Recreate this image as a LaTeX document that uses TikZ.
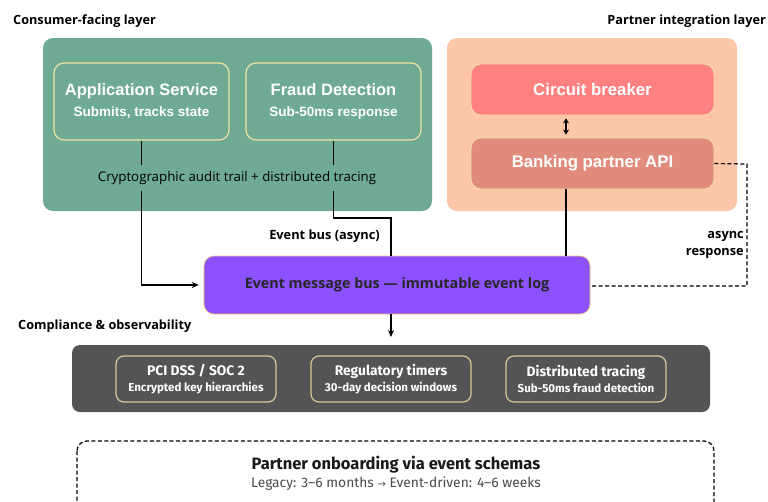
\documentclass[tikz,border=0pt]{standalone}
\usepackage{fontspec}
\setmainfont{Open Sans}
\newfontfamily\boxfont{Liberation Sans}
\newfontfamily\narrowfont{Fira Sans}
\newfontfamily\symfont{DejaVu Sans}
\usetikzlibrary{arrows.meta}
\definecolor{consgreen}{HTML}{6FAA94}
\definecolor{boxedge}{HTML}{F0E2A4}
\definecolor{peach}{HTML}{FDC6A8}
\definecolor{breaker}{HTML}{FE8080}
\definecolor{bankapi}{HTML}{E08B7B}
\definecolor{busviolet}{HTML}{8C52FF}
\definecolor{darkpanel}{HTML}{545454}
\definecolor{goldedge}{HTML}{D9C993}
\definecolor{subgray}{HTML}{4A4A4A}
\tikzset{
  panel/.style={rounded corners=10pt, inner sep=0pt},
  svcbox/.style={draw=boxedge, line width=1.2pt, rounded corners=10pt, fill=consgreen,
    text=white, align=center, inner sep=0pt, minimum width=175pt, minimum height=77pt,
    font=\boxfont\bfseries\fontsize{13.5}{21}\selectfont},
  partnerbox/.style={draw=boxedge, line width=0.8pt, rounded corners=10pt,
    text=white, align=center, inner sep=0pt, minimum width=243pt, minimum height=51pt,
    font=\boxfont\bfseries\fontsize{16.8}{20}\selectfont},
  compbox/.style={draw=goldedge, line width=1.2pt, rounded corners=8pt, fill=darkpanel,
    text=white, align=center, inner sep=0pt, minimum width=160pt, minimum height=46pt,
    font=\narrowfont\bfseries\fontsize{11.5}{16.5}\selectfont},
  layerlabel/.style={font=\bfseries\fontsize{12.7}{15}\selectfont, text=black, inner sep=0pt},
  link/.style={line width=1.3pt, draw=black},
  tip/.style={-{Stealth[length=7pt,width=6pt]}},
}
\begin{document}
\begin{tikzpicture}[x=1pt, y=-1pt]
\useasboundingbox (0,0) rectangle (768,501);
\clip (0,0) rectangle (768,501);

% layer titles
\node[layerlabel, anchor=west] (consl) at (13,21) {Consumer-facing layer};
\node[layerlabel, anchor=east] (partl) at (766,21) {Partner integration layer};
\node[layerlabel, anchor=west] (compl) at (18,326) {Compliance \& observability};

% consumer-facing layer
\node[panel, fill=consgreen, minimum width=389pt, minimum height=173pt] (cons) at (237.5,124.5) {};
\node[svcbox] (app) at (141.5,101.5)
  {{\fontsize{16.5}{19}\selectfont Application Service}\\
   Submits, tracks state};
\node[svcbox] (fraud) at (333.5,101.5)
  {{\fontsize{16.5}{19}\selectfont Fraud Detection}\\
   Sub-50ms response};

% partner integration layer
\node[panel, fill=peach, minimum width=290pt, minimum height=173pt] (part) at (592,124.5) {};
\node[partnerbox, fill=breaker] (cb) at (592.5,89.5) {Circuit breaker};
\node[partnerbox, fill=bankapi] (bank) at (592.5,163.5) {Banking partner API};
\draw[link, line width=1.3pt, {Stealth[length=5pt,width=6pt]}-{Stealth[length=5pt,width=6pt]}]
  ([xshift=-26.5pt,yshift=-3pt]cb.south) -- ([xshift=-26.5pt,yshift=3pt]bank.north);

% event bus
\node[draw=boxedge!70!orange, line width=0.6pt, rounded corners=10pt, fill=busviolet,
  minimum width=386pt, minimum height=58pt, inner sep=0pt,
  font=\bfseries\fontsize{14.3}{17}\selectfont, text=black!85] (bus) at (397,285)
  {Event message bus — immutable event log};

% connectors into the bus
\coordinate (fturn) at (391,218);
\coordinate (drop) at (391,337);
\coordinate (dashtop) at (747,164);
\coordinate (dashbot) at (747,286);
\draw[link, tip, shorten >=5pt] (app.south) |- (bus.west);
\draw[link] (fraud.south) |- (fturn) -- (fturn |- bus.north);
\draw[link] ([xshift=-26.5pt]bank.south) -- ([xshift=-26.5pt]bank.south |- bus.north);
\draw[link, dashed, dash pattern=on 4pt off 2.5pt, line width=1.2pt]
  (bank.east) -- (dashtop) -- (dashbot) -- (bus.east |- dashbot);
\draw[link, tip] ([xshift=-6pt]bus.south) -- (drop);

% labels over and beside the connectors
\node[fill=consgreen, inner xsep=0pt, inner ysep=6pt, font=\fontsize{13.3}{15}\selectfont] (audit) at (237,178)
  {Cryptographic audit trail + distributed tracing};
\node[anchor=east, inner sep=0pt, font=\bfseries\fontsize{12.8}{15}\selectfont] (busl) at (380,236) {Event bus (async)};
\node[anchor=east, inner sep=0pt, align=right, font=\bfseries\fontsize{12.8}{17}\selectfont] (asyncl) at (744,245)
  {async\\response};

% compliance & observability
\node[panel, fill=darkpanel, rounded corners=8pt, minimum width=638pt, minimum height=67pt] (comp) at (391,378.5) {};
\node[compbox] (pci) at (196,379)
  {{\fontsize{13.8}{16}\selectfont PCI DSS / SOC 2}\\
   Encrypted key hierarchies};
\node[compbox] (timers) at (391,379)
  {{\fontsize{13.8}{16}\selectfont Regulatory timers}\\
   30-day decision windows};
\node[compbox] (trace) at (586,379)
  {{\fontsize{13.8}{16}\selectfont Distributed tracing}\\
   Sub-50ms fraud detection};

% partner onboarding
\draw[line width=1.2pt, dashed, dash pattern=on 4pt off 2.5pt, rounded corners=10pt] (77,441) rectangle (714,530);
\node[inner sep=0pt, font=\narrowfont\bfseries\fontsize{16.5}{20}\selectfont, text=black!90] (onb) at (396,465)
  {Partner onboarding via event schemas};
\node[inner sep=0pt, font=\narrowfont\fontsize{13.8}{16}\selectfont, text=subgray] (onbsub) at (396,484)
  {Legacy: 3–6 months {\symfont\fontsize{10}{12}\selectfont →} Event-driven: 4–6 weeks};
\end{tikzpicture}
\end{document}
